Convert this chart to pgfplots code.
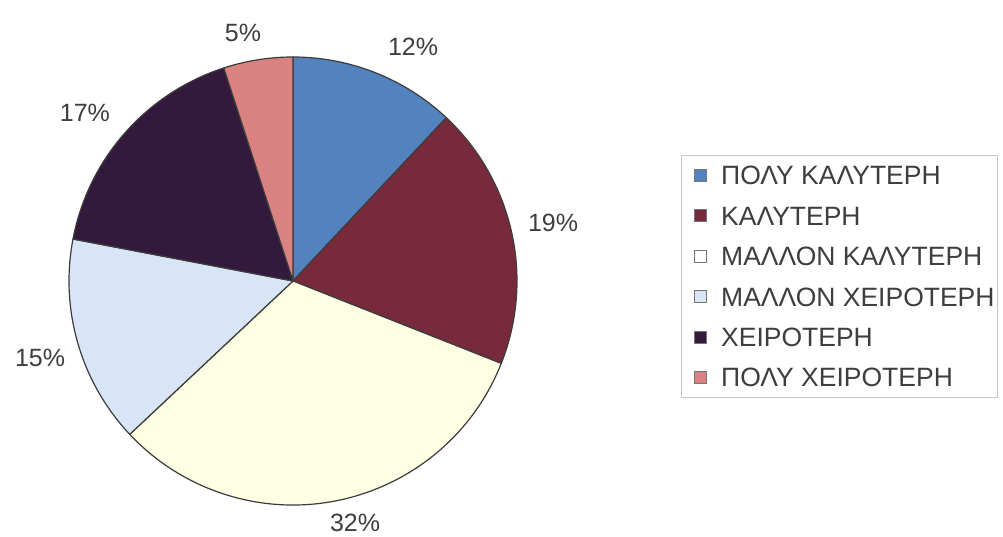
\documentclass[border=0pt]{standalone}
\usepackage{fontspec}
\setmainfont{Liberation Sans}
\usepackage{pgfplots}
\usepackage{pgfplotstable}
\pgfplotsset{compat=1.18}
\definecolor{pie0}{HTML}{5283BF}
\definecolor{pie1}{HTML}{782A3D}
\definecolor{pie2}{HTML}{FFFFE4}
\definecolor{pie3}{HTML}{D8E5F6}
\definecolor{pie4}{HTML}{33193C}
\definecolor{pie5}{HTML}{DA8282}
\definecolor{pieedge}{HTML}{3C3C3C}
\definecolor{labgray}{HTML}{3E3E3E}

\pgfplotstableread{
value
12
19
32
15
17
5
}\piedata

\pgfplotsset{
  sqlegend/.style={legend image code/.code={%
    \path (0pt,0pt);
    \draw[##1] (10pt,-6pt) rectangle (22pt,6pt);}},
}

\begin{document}
\begin{tikzpicture}
\fill[white] (0,0) rectangle (1003pt,537pt);
\useasboundingbox (0,0) rectangle (1003pt,537pt);
\begin{axis}[
  at={(293pt,256pt)}, anchor=center,
  scale only axis, width=448pt, height=448pt,
  xmin=-1, xmax=1, ymin=-1, ymax=1,
  hide axis, clip=false,
  legend cell align=left,
  legend style={at={(axis cs:1.732,0.5625)}, anchor=north west,
    draw=gray!45, fill=white, line width=0.8pt,
    inner xsep=3pt, inner ysep=10.5pt,
    row sep=21.4pt, column sep=14pt,
    font=\fontsize{26.5}{30}\selectfont\color{labgray},
    nodes={inner sep=0pt, text height=19pt, text depth=0pt}},
]
\def\startcum{0}
\pgfplotsforeachungrouped \i in {0,...,5}{%
  \pgfplotstablegetelem{\i}{value}\of\piedata
  \pgfmathsetmacro\endcum{\startcum+\pgfplotsretval}
  \pgfmathsetmacro\aa{90-3.6*\startcum}
  \pgfmathsetmacro\bb{90-3.6*\endcum}
  \edef\cmd{\noexpand\filldraw[fill=pie\i, draw=pieedge, line width=1.2pt, line join=round]
    (axis cs:0,0) -- (axis cs:{cos(\aa)},{sin(\aa)})
    arc[start angle=\aa, end angle=\bb, radius=224pt] -- cycle;}
  \cmd
  \global\let\startcum\endcum
}
\addlegendimage{sqlegend, fill=pie0, draw=pieedge!70}
\addlegendimage{sqlegend, fill=pie1, draw=pieedge!70}
\addlegendimage{sqlegend, fill=white, draw=pieedge!70}
\addlegendimage{sqlegend, fill=pie3, draw=pieedge!70}
\addlegendimage{sqlegend, fill=pie4, draw=pieedge!70}
\addlegendimage{sqlegend, fill=pie5, draw=pieedge!70}
\legend{ΠΟΛΥ ΚΑΛΥΤΕΡΗ, ΚΑΛΥΤΕΡΗ, ΜΑΛΛΟΝ ΚΑΛΥΤΕΡΗ, ΜΑΛΛΟΝ ΧΕΙΡΟΤΕΡΗ, ΧΕΙΡΟΤΕΡΗ, ΠΟΛΥ ΧΕΙΡΟΤΕΡΗ}
\begin{scope}[every node/.style={font=\fontsize{25}{28}\selectfont, text=labgray, inner sep=0pt, anchor=center}]
\node at (axis cs:0.536,1.045) {12\%};
\node at (axis cs:1.161,0.259) {19\%};
\node at (axis cs:0.277,-1.082) {32\%};
\node at (axis cs:-1.129,-0.344) {15\%};
\node at (axis cs:-0.929,0.750) {17\%};
\node at (axis cs:-0.223,1.107) {5\%};
\end{scope}
\end{axis}
\end{tikzpicture}
\end{document}
